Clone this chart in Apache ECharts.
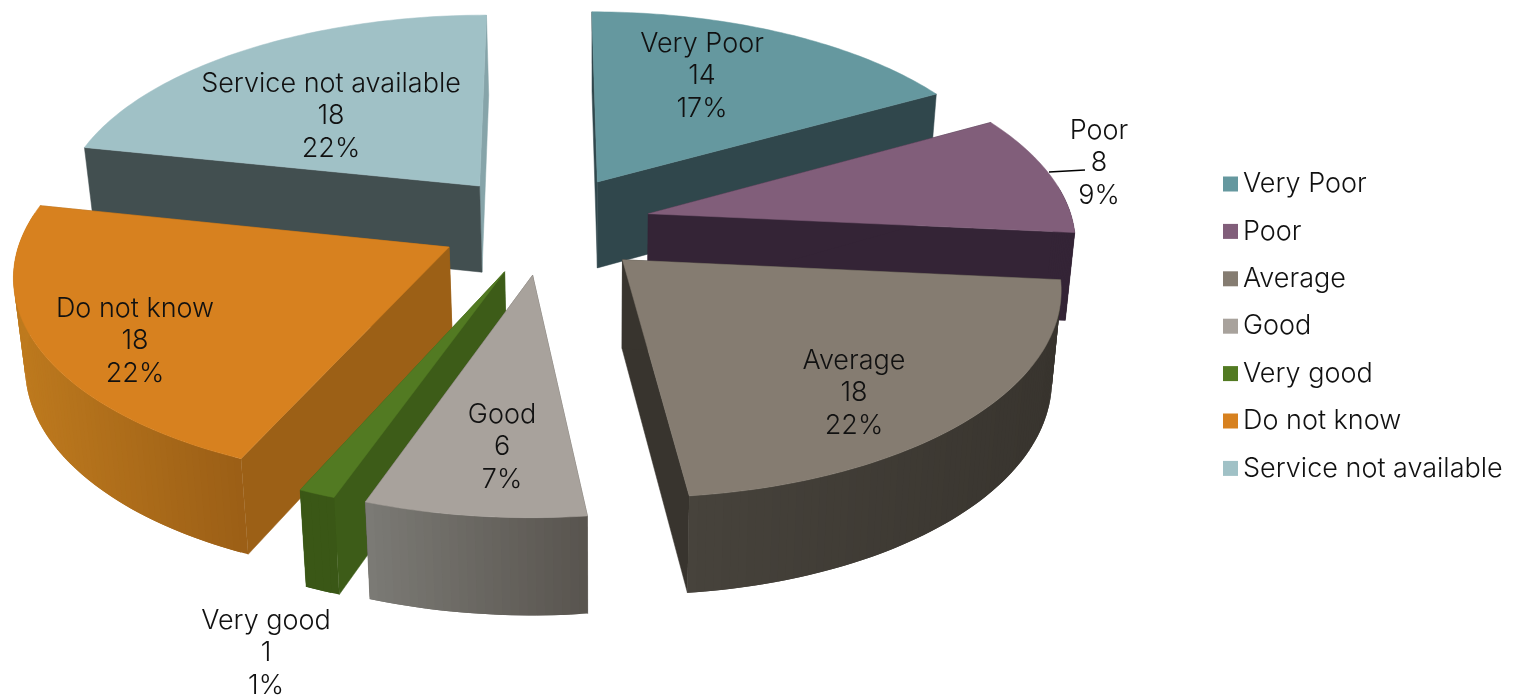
<!DOCTYPE html>
<html><head><meta charset="utf-8">
<style>html,body{margin:0;padding:0;background:#fff}#c{width:1517px;height:700px}</style>
<script src="https://cdn.jsdelivr.net/npm/echarts@6/dist/echarts.min.js"></script>
</head><body><div id="c"></div>
<script>
var categories = ['Very Poor','Poor','Average','Good','Very good','Do not know','Service not available'];
var counts = [14,8,18,6,1,18,18];
var percentLabels = ['17%','9%','22%','7%','1%','22%','22%'];

var topColors  = ['#65989F','#815E7A','#857C71','#A8A29C','#527A22','#D7811F','#A0C1C6'];
var wallColors = ['#30474C','#342436','#38342E','#5A5651','#3D5C18','#9C6016','#424F50'];
var outerLeft  = ['#30474C','#342436','#47433C','#7C7B76','#3A5716','#BE7A1E','#424F50'];
var outerRight = ['#30474C','#342436','#38342E','#59554F','#3A5716','#9C5F16','#424F50'];
var endWall    = ['#30474C','#342436','#38342E','#5A5651','#3D5C18','#9C6016','#86A4A9'];
var drawOrder  = [6,0,1,5,4,3,2];
var labelPos   = [[702,76],[1099,163],[854,393],[502,447],[266,653],[135,341],[331,116]];

var FONT = 'Inter, sans-serif', FS = 27, WEIGHT = 300;
var START = 0, EXPLODE = 0.25;
var XC = 545, YC = 224, A = 425, B = 200, K = 0.12;
var total = counts.reduce(function(a,b){return a+b;},0);

function project(U,V){ var d=1-K*V; return [XC+A*U/d, YC+B*V/d]; }
function drop(p){ return [600+(p[0]-600)*0.98, p[1]+86+(p[1]-182)*0.035]; }
function lerpHex(a,b,t){
  var x=parseInt(a.slice(1),16), y=parseInt(b.slice(1),16), out=[16,8,0].map(function(s){
    var p=(x>>s)&255,q=(y>>s)&255; return Math.round(p+(q-p)*t);});
  return 'rgb('+out.join(',')+')';
}
function startAngle(i){ var before=0; for(var j=0;j<i;j++) before+=counts[j]; return START+before/total*360; }

function makeRender(i){
  return function(params, api){
    var val=api.value(0), s=startAngle(i), e=s+val/total*360, mid=(s+e)/2*Math.PI/180;
    var U0=EXPLODE*Math.sin(mid), V0=-EXPLODE*Math.cos(mid);
    var apex=project(U0,V0), arc=[], degs=[];
    function at(d){ var t=d*Math.PI/180; return project(U0+Math.sin(t),V0-Math.cos(t)); }
    for(var d=s;d<e;d+=1){ arc.push(at(d)); degs.push(d); }
    arc.push(at(e)); degs.push(e);
    var first=arc[0], last=arc[arc.length-1];
    function poly(pts,fill,edge){ return {type:'polygon',shape:{points:pts},style:edge?{fill:fill,stroke:fill,lineWidth:0.5}:{fill:fill}}; }
    var minX=Infinity,maxX=-Infinity;
    arc.forEach(function(p){minX=Math.min(minX,p[0]);maxX=Math.max(maxX,p[0]);});
    var children=[
      poly([apex,last,drop(last),drop(apex)],endWall[i],true),
      poly([apex,first,drop(first),drop(apex)],wallColors[i],true)
    ];
    for(var q=0;q<arc.length-1;q++){
      if(Math.cos(degs[q]*Math.PI/180)>0.15) continue;
      var n=Math.min(q+2,arc.length-1);
      var t=(arc[q][0]-minX)/Math.max(1,maxX-minX);
      children.push(poly([arc[q],arc[n],drop(arc[n]),drop(arc[q])],lerpHex(outerLeft[i],outerRight[i],t),false));
    }
    children.push(poly([apex].concat(arc),topColors[i],true));
    if(i===1){ children.push({type:'polyline',shape:{points:[[1049,172],[1085,170]]},style:{stroke:'#000',lineWidth:1.5,fill:null}}); }
    children.push({type:'text',x:labelPos[i][0],y:labelPos[i][1],style:{
      text:categories[i]+'\n'+val+'\n'+percentLabels[i],
      font:WEIGHT+' '+FS+'px '+FONT,fill:'#111',align:'center',verticalAlign:'middle',lineHeight:32.6}});
    return {type:'group',children:children};
  };
}
var chart=echarts.init(document.getElementById('c'),null,{renderer:'canvas'});
chart.setOption({
  animation:false,
  backgroundColor:'#fff',
  legend:{orient:'vertical',left:1223,top:170.5,padding:0,data:categories,icon:'rect',itemWidth:15,itemHeight:15,itemGap:20.4,selectedMode:false,
    textStyle:{fontFamily:FONT,fontSize:FS,fontWeight:WEIGHT,color:'#111'}},
  series:categories.map(function(n,i){return {
    type:'custom',name:n,coordinateSystem:'none',z:2+drawOrder.indexOf(i),silent:true,
    itemStyle:{color:topColors[i]},data:[[counts[i]]],renderItem:makeRender(i)};})
});
</script></body></html>
